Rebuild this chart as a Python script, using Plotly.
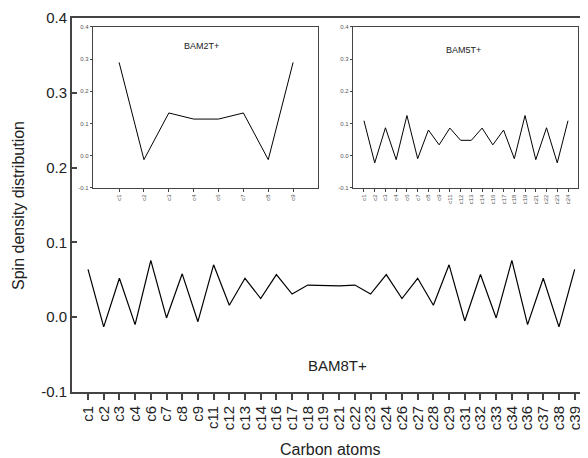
import plotly.graph_objects as go

# Main: BAM8T+
main_cats = ["c1","c2","c3","c4","c6","c7","c8","c9","c11","c12","c13","c14","c16","c17",
             "c18","c19","c21","c22","c23","c24","c26","c27","c28","c29","c31","c32","c33",
             "c34","c36","c37","c38","c39"]
main_vals = [0.064,-0.013,0.052,-0.010,0.076,-0.001,0.058,-0.006,0.070,0.016,0.052,0.025,0.057,0.031,
             0.043,0.042,0.042,0.043,0.031,0.057,0.025,0.052,0.016,0.070,-0.005,0.057,-0.001,
             0.076,-0.010,0.052,-0.013,0.064]

# Inset 1: BAM2T+
bam2_cats = ["c1","c2","c3","c4","c6","c7","c8","c9"]
bam2_vals = [0.290,-0.012,0.133,0.114,0.114,0.133,-0.012,0.290]

# Inset 2: BAM5T+
bam5_cats = ["c1","c2","c3","c4","c6","c7","c8","c9","c11","c12","c13","c14","c16","c17",
             "c18","c19","c21","c22","c23","c24"]
bam5_vals = [0.109,-0.022,0.087,-0.012,0.125,-0.009,0.080,0.034,0.086,0.048,0.048,0.086,0.034,0.080,
             -0.009,0.125,-0.012,0.087,-0.022,0.109]

y_ticks = [-0.1, 0.0, 0.1, 0.2, 0.3, 0.4]
y_ticktext = ["-0.1", "0.0", "0.1", "0.2", "0.3", "0.4"]

FONT = "Liberation Sans, Arial, sans-serif"

fig = go.Figure()
fig.add_trace(go.Scatter(x=main_cats, y=main_vals, mode="lines",
                         line=dict(color="black", width=1.2), xaxis="x", yaxis="y", showlegend=False))
fig.add_trace(go.Scatter(x=bam2_cats, y=bam2_vals, mode="lines",
                         line=dict(color="black", width=1), xaxis="x2", yaxis="y2", showlegend=False))
fig.add_trace(go.Scatter(x=bam5_cats, y=bam5_vals, mode="lines",
                         line=dict(color="black", width=1), xaxis="x3", yaxis="y3", showlegend=False))

axcol = "#444444"
inset_y = [0.5455, 0.976]
txt = "#222222"
small = "#555555"

# page body adds an 8px offset; figure is sized/margined to compensate
fig.update_layout(
    width=580, height=450,
    margin=dict(l=64, r=0, t=10, b=66),
    paper_bgcolor="white", plot_bgcolor="white",
    font=dict(family=FONT, color=txt),
    xaxis=dict(domain=[0, 1], type="category", categoryorder="array", categoryarray=main_cats,
               range=[-1.02, 31.85], showgrid=False, zeroline=False, automargin=False,
               tickmode="array", tickvals=main_cats, ticktext=main_cats,
               showline=True, linecolor=axcol, linewidth=2, mirror=True,
               ticks="outside", ticklen=6, tickcolor=axcol, tickwidth=1.5,
               tickangle=-90, tickfont=dict(size=15, color=txt)),
    yaxis=dict(domain=[0, 1], range=[-0.1, 0.4], tickmode="array", tickvals=y_ticks, ticktext=y_ticktext,
               showgrid=False, zeroline=False, automargin=False,
               showline=True, linecolor=axcol, linewidth=2,
               ticks="inside", ticklen=5, tickcolor=axcol, tickwidth=1.5,
               tickfont=dict(size=15, color=txt)),
    xaxis2=dict(domain=[0.0407, 0.4767], anchor="y2", type="category", categoryorder="array",
                categoryarray=bam2_cats, range=[-1.05, 8.0], showgrid=False, zeroline=False,
                tickmode="array", tickvals=bam2_cats, ticktext=bam2_cats, automargin=False,
                showline=True, linecolor=axcol, linewidth=1.3, mirror=True,
                ticks="outside", ticklen=3, tickcolor=axcol, tickwidth=1,
                tickangle=-90, tickfont=dict(size=6, color=small)),
    yaxis2=dict(domain=inset_y, anchor="x2", range=[-0.1, 0.4], tickmode="array",
                tickvals=y_ticks, ticktext=y_ticktext, automargin=False,
                showgrid=False, zeroline=False,
                showline=True, linecolor=axcol, linewidth=1.3, mirror=True,
                ticks="outside", ticklen=2, tickcolor=axcol, tickwidth=1,
                tickfont=dict(size=6, color=small)),
    xaxis3=dict(domain=[0.5446, 0.9806], anchor="y3", type="category", categoryorder="array",
                categoryarray=bam5_cats, range=[-1.02, 19.93], showgrid=False, zeroline=False,
                tickmode="array", tickvals=bam5_cats, ticktext=bam5_cats, automargin=False,
                showline=True, linecolor=axcol, linewidth=1.3, mirror=True,
                ticks="outside", ticklen=3, tickcolor=axcol, tickwidth=1,
                tickangle=-90, tickfont=dict(size=6, color=small)),
    yaxis3=dict(domain=inset_y, anchor="x3", range=[-0.1, 0.4], tickmode="array",
                tickvals=y_ticks, ticktext=y_ticktext, automargin=False,
                showgrid=False, zeroline=False,
                showline=True, linecolor=axcol, linewidth=1.3, mirror=True,
                ticks="outside", ticklen=2, tickcolor=axcol, tickwidth=1,
                tickfont=dict(size=6, color=small)),
    annotations=[
        dict(text="Carbon atoms", x=0.5, y=-0.155, xref="paper", yref="paper", showarrow=False,
             xanchor="center", yanchor="middle", font=dict(size=16, color=txt)),
        dict(text="Spin density distribution", x=-0.1047, y=0.5, xref="paper", yref="paper",
             xanchor="center", yanchor="middle",
             textangle=-90, showarrow=False, font=dict(size=16, color=txt)),
        dict(text="BAM8T+", x=0.515, y=0.072, xref="paper", yref="paper", showarrow=False,
             xanchor="center", yanchor="middle", font=dict(size=15, color=txt)),
        dict(text="BAM2T+", x=3.3, y=0.34, xref="x2", yref="y2", showarrow=False,
             font=dict(size=9, color=txt)),
        dict(text="BAM5T+", x=9.3, y=0.33, xref="x3", yref="y3", showarrow=False,
             font=dict(size=9, color=txt)),
    ],
)

fig.write_html("out.html")
